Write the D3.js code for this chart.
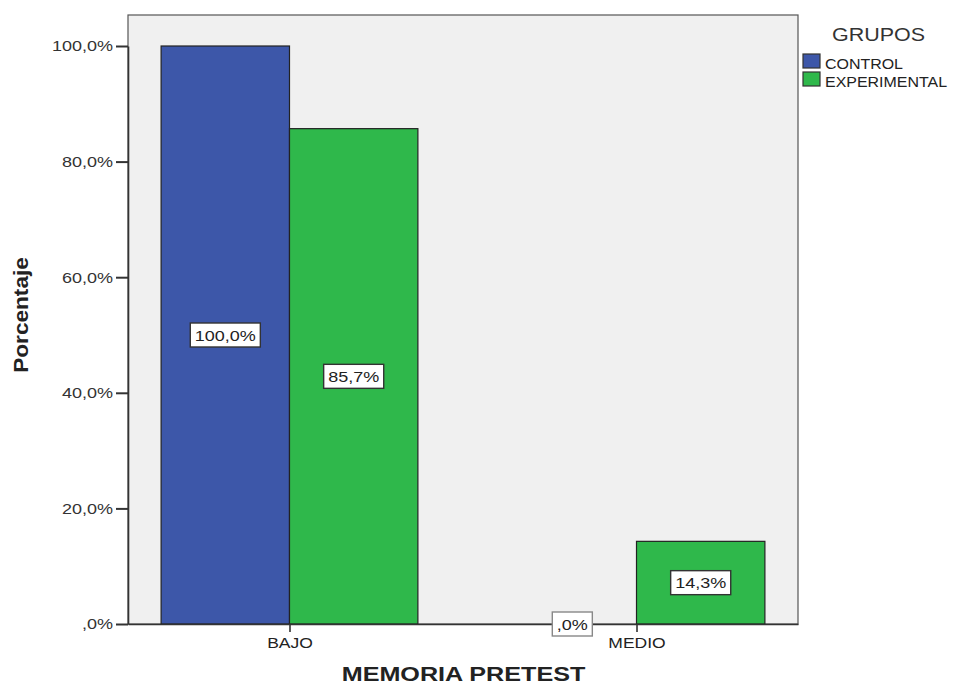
<!DOCTYPE html>
<html><head><meta charset="utf-8">
<script src="https://cdn.jsdelivr.net/npm/d3@7"></script>
<style>body{margin:0;background:#fff;}text{font-family:"Liberation Sans",Arial,sans-serif;}</style>
</head><body><svg id="c" width="953" height="684"></svg>
<script>
const categories = ["BAJO", "MEDIO"];
const groups = ["CONTROL", "EXPERIMENTAL"];
const control = [100.0, 0.0];
const experimental = [85.7, 14.3];
const yTicks = [0, 20, 40, 60, 80, 100];
const colors = ["#3d57a9", "#2fb84b"];

const svg = d3.select("#c");
const L = 128, R = 798, T = 15, B = 624;
const x = d3.scalePoint().domain(categories).range([L, R]).padding(0.4654);
const y = d3.scaleLinear().domain([0, 100]).range([B, 46]);
const bw = x.step() * 0.37;
const pct = v => (v === 0 ? ",0" : d3.format(".1f")(v).replace(".", ",")) + "%";

function stretch(sel, f) {
  let last = 0;
  sel.each(function () {
    const len = this.getComputedTextLength();
    last = len * f;
    d3.select(this).attr("textLength", last).attr("lengthAdjust", "spacingAndGlyphs");
  });
  return last;
}

svg.append("rect").attr("x", L).attr("y", T).attr("width", R - L).attr("height", B - T)
  .attr("fill", "#f0f0f0").attr("stroke", "#555").attr("stroke-width", 1.2);

const series = [control, experimental];
const bars = [];
categories.forEach((c, i) => {
  series.forEach((s, j) => {
    const x0 = j === 0 ? x(c) - bw : x(c);
    bars.push({c, j, v: s[i], x0});
  });
});
svg.selectAll("rect.bar").data(bars).enter().append("rect").attr("class", "bar")
  .attr("x", d => d.x0).attr("y", d => y(d.v)).attr("width", bw)
  .attr("height", d => Math.max(0, B - y(d.v)))
  .attr("fill", d => colors[d.j]).attr("stroke", "#222").attr("stroke-width", 1.2);

// Y axis
const yAxis = d3.axisLeft(y).tickValues(yTicks).tickSize(12).tickSizeOuter(0).tickFormat(pct);
const ya = svg.append("g").attr("transform", `translate(${L},0)`).call(yAxis);
ya.select(".domain").attr("stroke", "#333").attr("stroke-width", 1.6);
ya.selectAll(".tick line").attr("stroke", "#333").attr("stroke-width", 2);
ya.selectAll(".tick text").attr("font-size", 15).attr("fill", "#333").attr("x", -15)
  .attr("font-family", "'Liberation Sans',Arial,sans-serif");
stretch(ya.selectAll(".tick text"), 1.2);

// X axis
const xAxis = d3.axisBottom(x).tickSize(8).tickSizeOuter(0);
const xa = svg.append("g").attr("transform", `translate(0,${B})`).call(xAxis);
xa.select(".domain").attr("stroke", "#333").attr("stroke-width", 1.6);
xa.selectAll(".tick line").attr("stroke", "#333").attr("stroke-width", 1.6);
xa.selectAll(".tick text").attr("font-size", 14).attr("fill", "#222").attr("y", 24).attr("dy", 0)
  .attr("font-family", "'Liberation Sans',Arial,sans-serif");
stretch(xa.selectAll(".tick text"), 1.25);

// value labels
bars.forEach(d => {
  const cx = d.x0 + bw / 2;
  const cy = d.v === 0 ? B : (y(d.v) + B) / 2;
  const g = svg.append("g");
  const t = g.append("text").attr("x", cx).attr("y", cy + 5.5)
    .attr("text-anchor", "middle").attr("font-size", 15).attr("fill", "#222").text(pct(d.v));
  const w = stretch(t, 1.2);
  g.insert("rect", "text").attr("x", cx - w / 2 - 4.5).attr("y", cy - 12).attr("width", w + 9).attr("height", 24)
    .attr("fill", "#fff").attr("stroke", d.v === 0 ? "#888" : "#333").attr("stroke-width", 1.4);
});

// titles
stretch(svg.append("text").attr("x", 463.5).attr("y", 681).attr("text-anchor", "middle")
  .attr("font-size", 19.5).attr("font-weight", "bold").attr("fill", "#222").text("MEMORIA PRETEST"), 1.29);
stretch(svg.append("text").attr("transform", "translate(28,315) rotate(-90)").attr("text-anchor", "middle")
  .attr("font-size", 19.5).attr("font-weight", "bold").attr("fill", "#222").text("Porcentaje"), 1.16);

// legend
stretch(svg.append("text").attr("x", 878.5).attr("y", 41).attr("text-anchor", "middle")
  .attr("font-size", 18.5).attr("fill", "#333").text("GRUPOS"), 1.16);
groups.forEach((g, i) => {
  svg.append("rect").attr("x", 803).attr("y", 54 + i * 18).attr("width", 17).attr("height", 14)
    .attr("fill", colors[i]).attr("stroke", "#333").attr("stroke-width", 1.2);
  stretch(svg.append("text").attr("x", 825).attr("y", 69 + i * 18).attr("font-size", 14.5)
    .attr("fill", "#222").text(g), 1.1);
});
</script></body></html>
